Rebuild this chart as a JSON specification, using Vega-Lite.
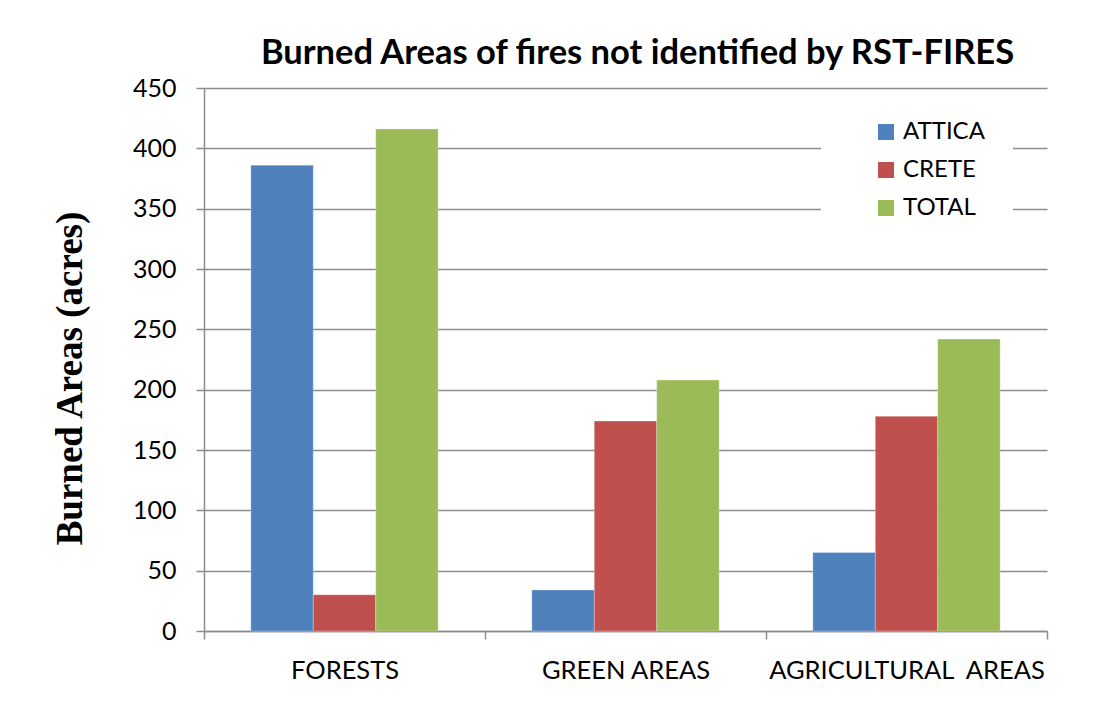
{
  "$schema": "https://vega.github.io/schema/vega-lite/v6.json",
  "autosize": "none",
  "width": 843,
  "height": 543,
  "padding": {"left": 204, "top": 88, "right": 50, "bottom": 75},
  "background": "white",
  "title": {
    "text": "Burned Areas of fires not identified by RST-FIRES",
    "font": "Lato",
    "fontSize": 34.5,
    "fontWeight": "bold",
    "color": "black",
    "anchor": "middle",
    "dx": 12,
    "offset": 5
  },
  "data": {
    "values": [
      {"area": "FORESTS", "region": "ATTICA", "acres": 386},
      {"area": "FORESTS", "region": "CRETE", "acres": 30},
      {"area": "FORESTS", "region": "TOTAL", "acres": 416},
      {"area": "GREEN AREAS", "region": "ATTICA", "acres": 34},
      {"area": "GREEN AREAS", "region": "CRETE", "acres": 174},
      {"area": "GREEN AREAS", "region": "TOTAL", "acres": 208},
      {"area": "AGRICULTURAL  AREAS", "region": "ATTICA", "acres": 65},
      {"area": "AGRICULTURAL  AREAS", "region": "CRETE", "acres": 178},
      {"area": "AGRICULTURAL  AREAS", "region": "TOTAL", "acres": 242}
    ]
  },
  "mark": {"type": "bar", "stroke": "white", "strokeOpacity": 0.35, "strokeWidth": 0.8},
  "encoding": {
    "x": {
      "field": "area",
      "type": "nominal",
      "sort": ["FORESTS", "GREEN AREAS", "AGRICULTURAL  AREAS"],
      "scale": {"paddingInner": 0, "paddingOuter": 0},
      "axis": {
        "title": null,
        "labelAngle": 0,
        "labelExpr": "replace(datum.label, '  ', '\u00a0 ')",
        "labelFont": "Lato",
        "labelFontSize": 25.5,
        "labelColor": "black",
        "labelPadding": 19,
        "labelLimit": 400,
        "tickBand": "extent",
        "tickSize": 8,
        "tickColor": "#8c8c8c",
        "tickWidth": 1.5,
        "domainColor": "#8c8c8c",
        "domainWidth": 1.5,
        "grid": false
      }
    },
    "xOffset": {
      "field": "region",
      "type": "nominal",
      "sort": ["ATTICA", "CRETE", "TOTAL"],
      "scale": {"paddingInner": 0, "paddingOuter": 0.75}
    },
    "y": {
      "field": "acres",
      "type": "quantitative",
      "scale": {"domain": [0, 450], "nice": false},
      "axis": {
        "values": [0, 50, 100, 150, 200, 250, 300, 350, 400, 450],
        "title": "Burned Areas (acres)",
        "titleFont": "Liberation Serif",
        "titleFontSize": 37,
        "titleFontWeight": "bold",
        "titleColor": "black",
        "titleAngle": -90,
        "titleAlign": "center",
        "titleBaseline": "middle",
        "titleX": -134,
        "titleY": 290,
        "labelFont": "Lato",
        "labelFontSize": 25,
        "labelColor": "black",
        "labelPadding": 20,
        "tickSize": 8,
        "tickColor": "#8c8c8c",
        "tickWidth": 1.5,
        "domainColor": "#8c8c8c",
        "domainWidth": 1.5,
        "grid": true,
        "gridColor": "#8c8c8c",
        "gridWidth": 1.5
      }
    },
    "color": {
      "field": "region",
      "type": "nominal",
      "sort": ["ATTICA", "CRETE", "TOTAL"],
      "scale": {"domain": ["ATTICA", "CRETE", "TOTAL"], "range": ["#4F81BD", "#C0504D", "#9BBB59"]},
      "legend": {
        "title": null,
        "orient": "none",
        "legendX": 617,
        "legendY": 4,
        "fillColor": "white",
        "padding": 28,
        "symbolOffset": 25,
        "symbolType": "square",
        "symbolSize": 256,
        "symbolStrokeWidth": 0,
        "labelFont": "Lato",
        "labelFontSize": 24,
        "labelColor": "black",
        "labelOffset": 5,
        "rowPadding": 14
      }
    }
  },
  "config": {
    "view": {"stroke": null}
  }
}
